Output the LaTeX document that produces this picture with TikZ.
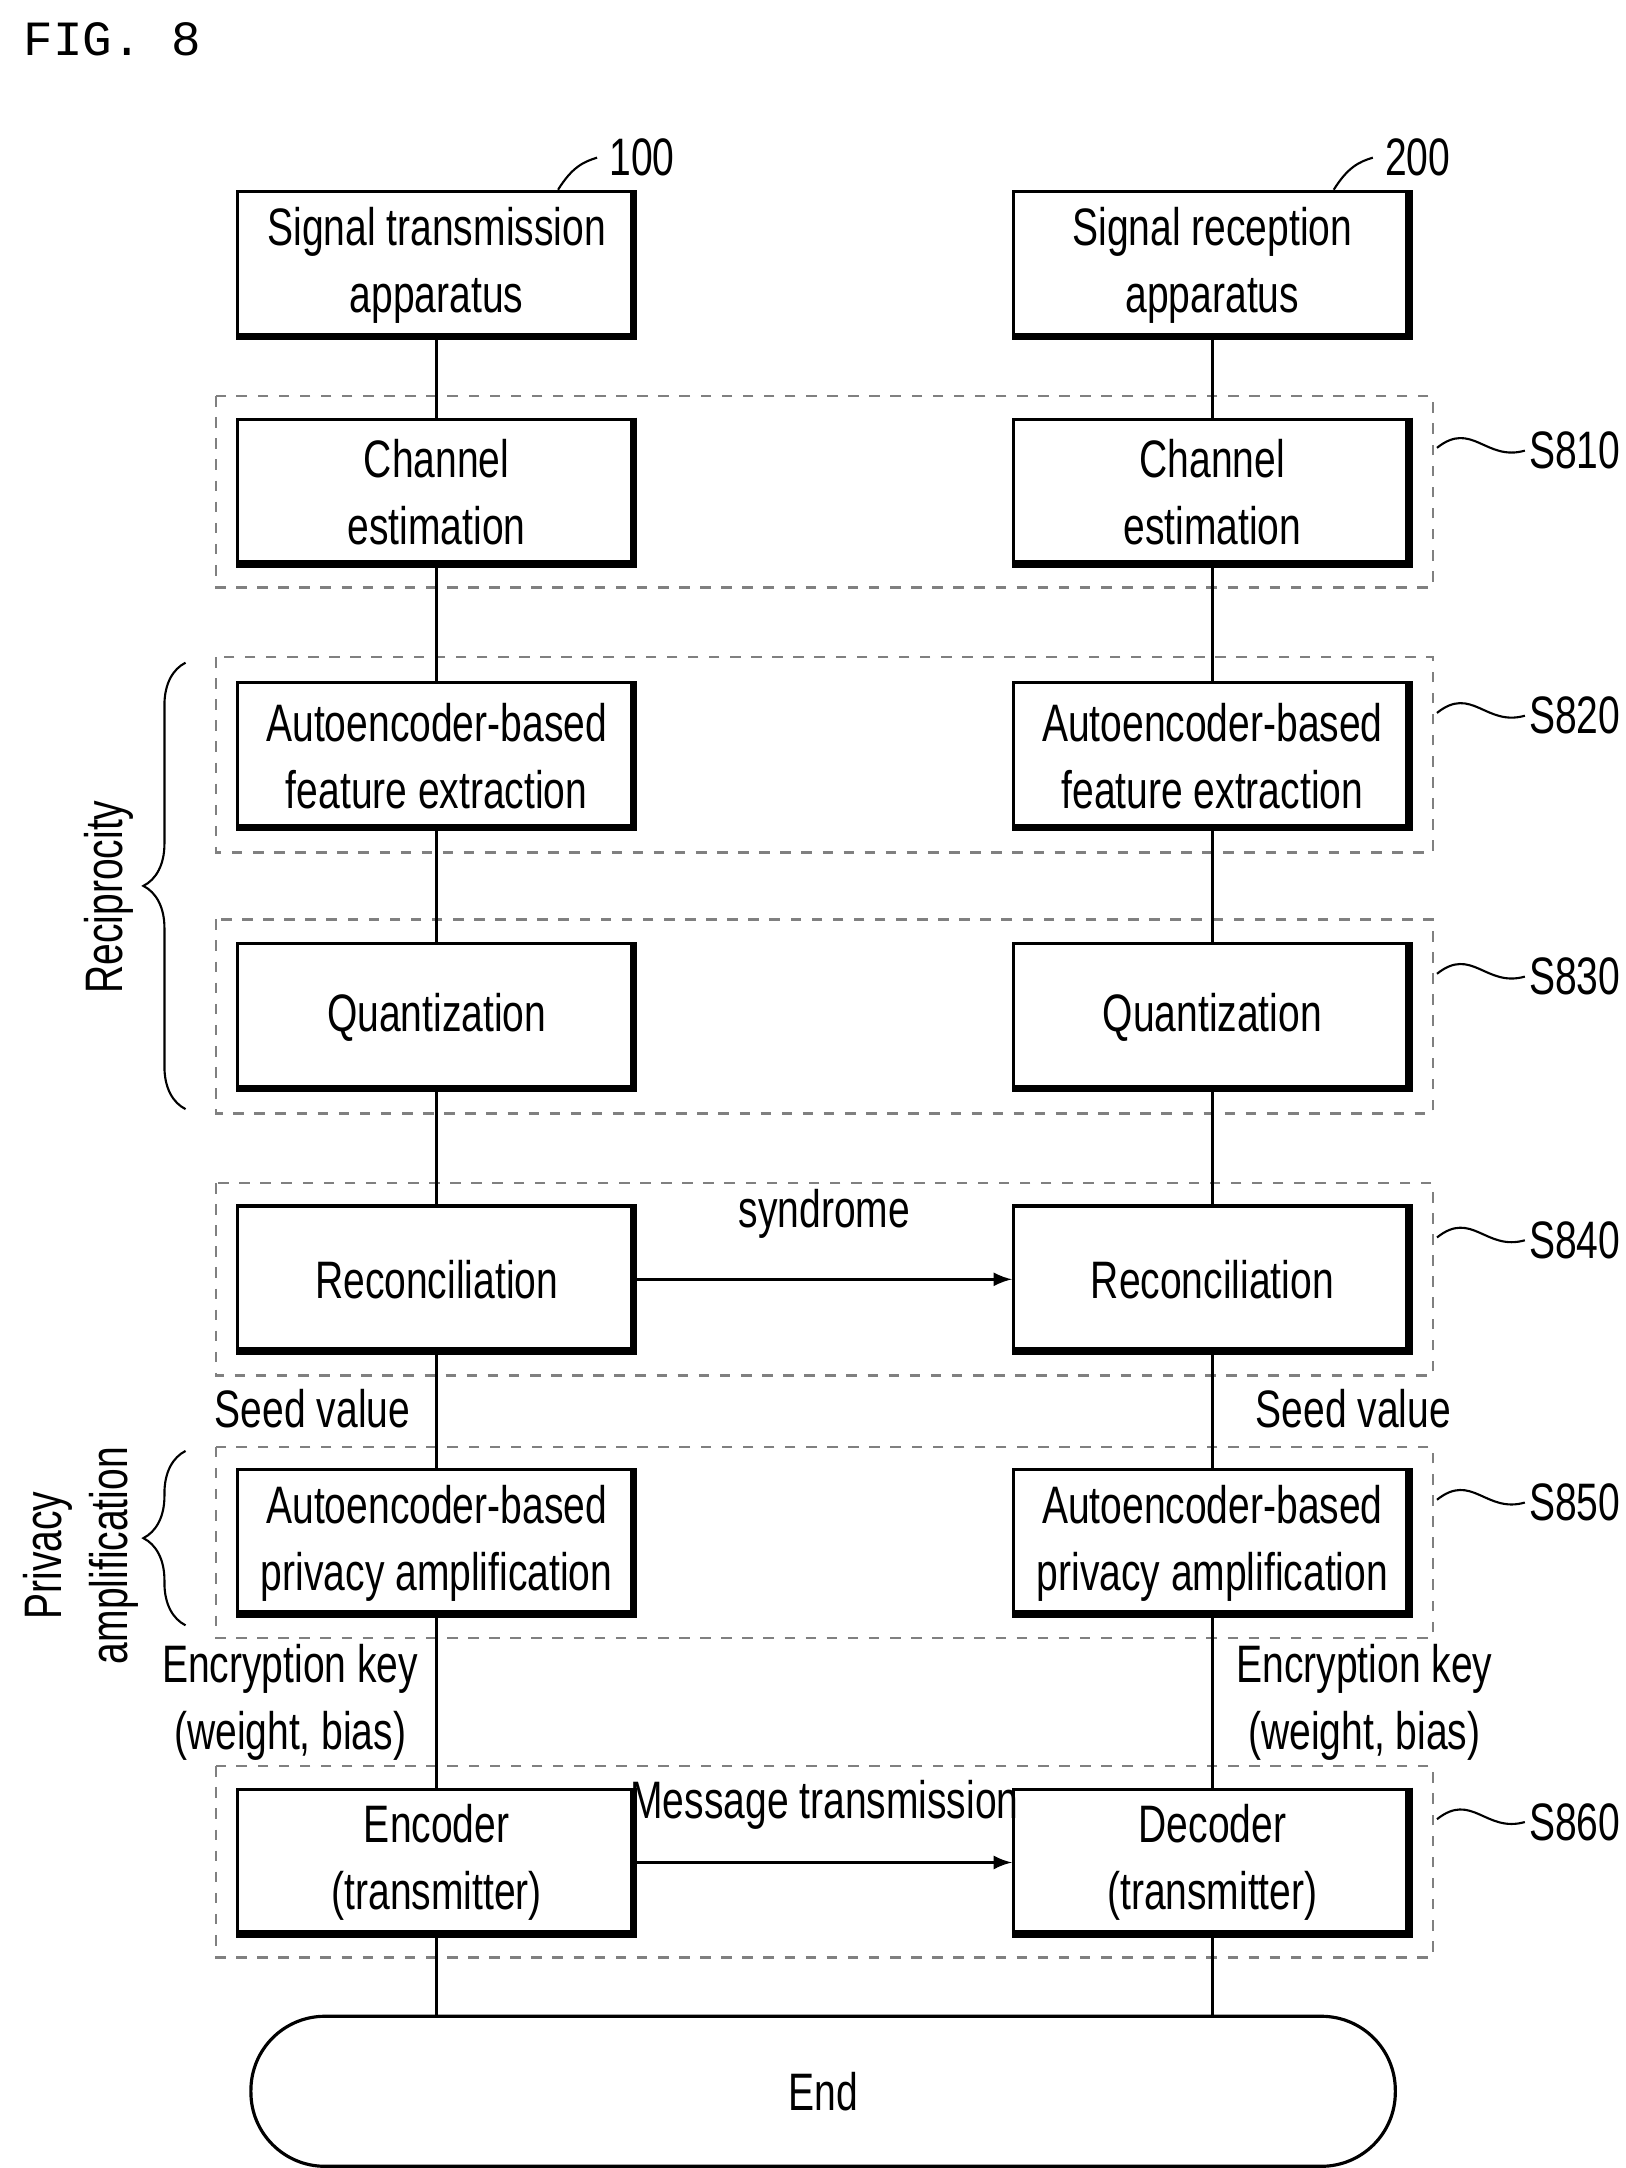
\documentclass[tikz,border=0pt]{standalone}
\usepackage{fontspec}
\setmainfont[FakeStretch=0.74]{Liberation Sans}
\setmonofont{Liberation Mono}
\usetikzlibrary{decorations.pathreplacing,positioning}
\tikzset{
    block/.style={draw,line width=0.9pt,minimum width=3.976cm,minimum height=1.465cm,align=center,font=\fontsize{15}{19}\selectfont},
    group/.style={draw,dashed,gray,line width=0.7pt},
    txt/.style={font=\fontsize{15}{19}\selectfont,align=center},
    link/.style={line width=0.8pt},
    msg/.style={-latex,line width=0.8pt},
    lead/.style={line width=0.6pt}
}
\begin{document}
\begin{tikzpicture}[x=0.01395cm,y=-0.01395cm]
    \useasboundingbox (0,0) rectangle (1165,1554);
    \node[anchor=west,font=\ttfamily\fontsize{14}{17}\selectfont] (fig) at (8,28) {FIG. 8};

    % dashed step groups
    \foreach \t/\b in {284/421,471/611,659/798,848/986,1037/1174,1266/1403}
        \draw[group] (155,\t) rectangle (1027,\b);

    % left column
    \node[block] (tx)   at (313,190)  {Signal transmission\\apparatus};
    \node[block] (ce1)  at (313,353)  {Channel\\estimation};
    \node[block] (fe1)  at (313,542)  {Autoencoder-based\\feature extraction};
    \node[block] (q1)   at (313,729)  {Quantization};
    \node[block] (rc1)  at (313,917)  {Reconciliation};
    \node[block] (pa1)  at (313,1106) {Autoencoder-based\\privacy amplification};
    \node[block] (enc)  at (313,1335) {Encoder\\(transmitter)};

    % right column
    \node[block] (rx)   at (869,190)  {Signal reception\\apparatus};
    \node[block] (ce2)  at (869,353)  {Channel\\estimation};
    \node[block] (fe2)  at (869,542)  {Autoencoder-based\\feature extraction};
    \node[block] (q2)   at (869,729)  {Quantization};
    \node[block] (rc2)  at (869,917)  {Reconciliation};
    \node[block] (pa2)  at (869,1106) {Autoencoder-based\\privacy amplification};
    \node[block] (dec)  at (869,1335) {Decoder\\(transmitter)};

    \node[draw,line width=0.9pt,rounded corners=0.74cm,minimum width=11.44cm,minimum height=1.5cm,txt] (end) at (590,1499) {End};

    % shadow edges
    \foreach \n in {tx,ce1,fe1,q1,rc1,pa1,enc,rx,ce2,fe2,q2,rc2,pa2,dec}
        \draw[line width=2.2pt] ([xshift=-1pt]\n.north east) -- ([xshift=-1pt,yshift=1pt]\n.south east) -- ([yshift=1pt]\n.south west);

    % vertical links
    \draw[link] (tx) -- (ce1) -- (fe1) -- (q1) -- (rc1) -- (pa1) -- (enc) -- (enc.south |- end.north);
    \draw[link] (rx) -- (ce2) -- (fe2) -- (q2) -- (rc2) -- (pa2) -- (dec) -- (dec.south |- end.north);

    % messages
    \draw[msg] (rc1) -- node[above=8pt,txt] (syn) {syndrome} (rc2);
    \draw[msg] (enc) -- node[above=8pt,txt,inner sep=1pt] (mt) {Message transmission} (dec);

    % side labels
    \node[txt] (seed1) at (224,1010) {Seed value};
    \node[txt] (seed2) at (970,1010) {Seed value};
    \node[txt] (key1)  at (208,1220) {Encryption key\\(weight, bias)};
    \node[txt] (key2)  at (978,1220) {Encryption key\\(weight, bias)};

    % reference numerals
    \node[txt,anchor=west] (n100) at (428,113) {100};
    \node[txt,anchor=west] (n200) at (984,113) {200};
    \draw[lead] (400,136) .. controls (410,120) and (418,116) .. (n100.west);
    \draw[lead] (956,136) .. controls (966,120) and (974,116) .. (n200.west);
    \foreach \y/\s in {323/S810,513/S820,700/S830,889/S840,1077/S850,1306/S860} {
        \node[txt,anchor=west,inner sep=1pt] (\s) at (1093,\y) {\s};
        \draw[lead] (1030,\y-2) .. controls (1055,\y-22) and (1065,\y+8) .. (\s.west);
    }

    % braces
    \draw[lead,decorate,decoration={brace,amplitude=12pt}] (133,795) -- (133,475);
    \node[txt,rotate=90] (recip) at (78,643) {Reciprocity};
    \draw[lead,decorate,decoration={brace,amplitude=12pt}] (133,1165) -- (133,1040);
    \node[txt,rotate=90] (priv) at (58,1115) {Privacy\\amplification};
\end{tikzpicture}
\end{document}
